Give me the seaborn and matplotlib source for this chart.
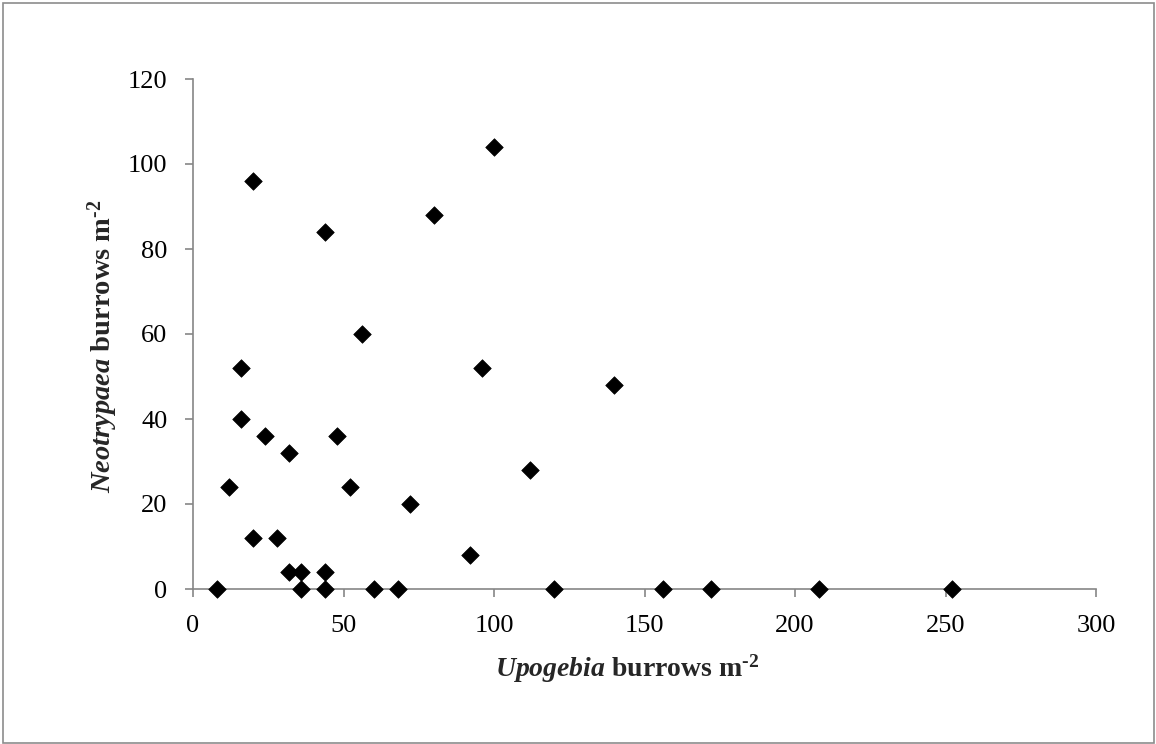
import matplotlib
matplotlib.use("Agg")
import matplotlib.pyplot as plt
import seaborn as sns
import pandas as pd
from matplotlib.patches import Rectangle

# Data
upogebia = [8, 12, 16, 16, 20, 20, 24, 28, 32, 32, 36, 36, 44, 44, 44, 48,
            52, 56, 60, 68, 72, 80, 92, 96, 100, 112, 120, 140, 156, 172, 208, 252]
neotrypaea = [0, 24, 52, 40, 96, 12, 36, 12, 32, 4, 4, 0, 84, 4, 0, 36,
              24, 60, 0, 0, 20, 88, 8, 52, 104, 28, 0, 48, 0, 0, 0, 0]
x_ticks = [0, 50, 100, 150, 200, 250, 300]
y_ticks = [0, 20, 40, 60, 80, 100, 120]

df = pd.DataFrame({"Upogebia": upogebia, "Neotrypaea": neotrypaea})

sns.set_theme(style="white")
plt.rcParams["font.family"] = ["Liberation Serif", "DejaVu Serif"]
plt.rcParams["mathtext.fontset"] = "custom"
plt.rcParams["mathtext.it"] = "Liberation Serif:italic:bold"
plt.rcParams["mathtext.rm"] = "Liberation Serif:bold"
plt.rcParams["mathtext.bf"] = "Liberation Serif:bold"

fig = plt.figure(figsize=(11.56, 7.44), dpi=100)
ax = fig.add_axes([193/1156, 1 - 589/744, (1096-193)/1156, (589-79)/744])

sns.scatterplot(data=df, x="Upogebia", y="Neotrypaea", marker="D", s=80,
                color="black", edgecolor="black", linewidth=0.5, ax=ax,
                clip_on=False, zorder=5)

ax.set_xlim(0, 300)
ax.set_ylim(0, 120)
ax.set_xticks(x_ticks)
ax.set_yticks(y_ticks)
ax.tick_params(axis="both", which="major", direction="out", length=5.5, width=1.2,
               color="#868686", labelsize=19, labelcolor="black", pad=13,
               bottom=True, left=True)
for side in ["top", "right"]:
    ax.spines[side].set_visible(False)
for side in ["left", "bottom"]:
    ax.spines[side].set_color("#868686")
    ax.spines[side].set_linewidth(1.2)

ax.set_xlabel(r"$\mathit{Upogebia}$ burrows m$^{\text{-2}}$", fontsize=20,
              fontweight="bold")
ax.set_ylabel(r"$\mathit{Neotrypaea}$ burrows m$^{\text{-2}}$", fontsize=20.5,
              fontweight="bold")
ax.xaxis.set_label_coords(0.481, -0.125)
ax.yaxis.set_label_coords(-0.081, 0.477)

fig.patches.append(Rectangle((2.5/1156, 1.5/744), 1 - 5/1156, 1 - 4/744,
                             transform=fig.transFigure, fill=False,
                             edgecolor="#8c8c8c", linewidth=1.2))

fig.savefig("out.png", dpi=100)
